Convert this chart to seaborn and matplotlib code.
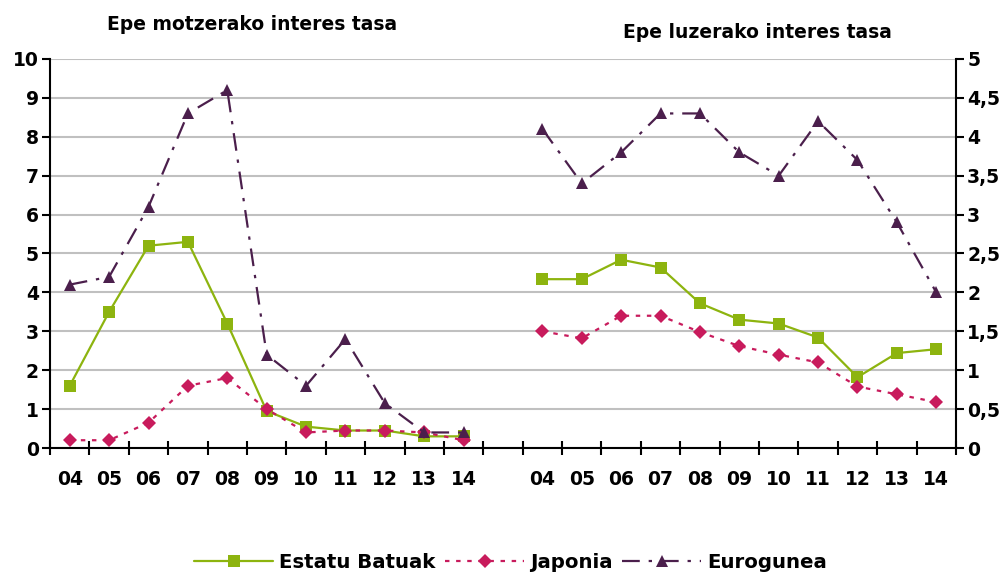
import matplotlib
matplotlib.use("Agg")
import matplotlib.pyplot as plt
import seaborn as sns
from matplotlib.lines import Line2D

# years shown in both panels
years = ["04", "05", "06", "07", "08", "09", "10", "11", "12", "13", "14"]

# short-term interest rate (left axis, 0-10)
short_us = [1.6, 3.5, 5.2, 5.3, 3.2, 0.95, 0.55, 0.45, 0.45, 0.3, 0.3]
short_jp = [0.2, 0.2, 0.65, 1.6, 1.8, 1.0, 0.4, 0.45, 0.45, 0.4, 0.2]
short_eu = [4.2, 4.4, 6.2, 8.6, 9.2, 2.4, 1.6, 2.8, 1.15, 0.4, 0.4]

# long-term interest rate (right axis, 0-5)
long_us = [2.17, 2.17, 2.42, 2.32, 1.86, 1.65, 1.6, 1.42, 0.91, 1.22, 1.27]
long_jp = [1.5, 1.41, 1.7, 1.7, 1.49, 1.31, 1.2, 1.1, 0.79, 0.69, 0.59]
long_eu = [4.1, 3.4, 3.8, 4.3, 4.3, 3.8, 3.5, 4.2, 3.7, 2.9, 2.0]

labels = ["Estatu Batuak", "Japonia", "Eurogunea"]

green = "#8db40f"
pink = "#c81b5c"
purple = "#4b1f4c"

styles = [
    dict(color=green, marker="s", markersize=8, linestyle="-", linewidth=1.6),
    dict(color=pink, marker="D", markersize=7, linestyle=(0, (2, 3)), linewidth=1.6),
    dict(color=purple, marker="^", markersize=9, linestyle=(0, (8, 4, 1.5, 4)), linewidth=1.6),
]

sns.set_style("white")
plt.rcParams["font.family"] = ["DejaVu Sans"]
plt.rcParams["font.weight"] = "bold"
plt.rcParams["text.color"] = "black"
plt.rcParams["xtick.color"] = "black"
plt.rcParams["ytick.color"] = "black"

fig = plt.figure(figsize=(10.05, 5.76), dpi=100)
ax = fig.add_axes([0.0498, 0.2222, 0.9014, 0.6754])
ax2 = ax.twinx()

x_left = list(range(0, 11))
x_right = list(range(12, 23))

for vals, st in zip([short_us, short_jp, short_eu], styles):
    sns.lineplot(x=x_left, y=vals, ax=ax, markeredgewidth=0, **st)
for vals, st in zip([long_us, long_jp, long_eu], styles):
    sns.lineplot(x=x_right, y=vals, ax=ax2, markeredgewidth=0, **st)

ax.set_xlim(-0.5, 22.5)
ax.set_ylim(0, 10)
ax2.set_ylim(0, 5)

ax.set_yticks(range(0, 11))
ax.set_yticklabels([str(i) for i in range(0, 11)], fontsize=13.5, fontweight="bold")
rticks = [i * 0.5 for i in range(11)]
ax2.set_yticks(rticks)
ax2.set_yticklabels([("%g" % t).replace(".", ",") for t in rticks], fontsize=13.5, fontweight="bold")

# category boundaries as ticks, labels at centres
ax.set_xticks([i - 0.5 for i in range(24)])
ax.set_xticklabels([])
ax.set_xticks(x_left + x_right, minor=True)
ax.set_xticklabels(years + years, minor=True, fontsize=13.5, fontweight="bold")
ax.tick_params(axis="x", which="major", bottom=True, direction="inout", length=10, width=1.5)
ax.tick_params(axis="x", which="minor", bottom=True, length=0, pad=16)
ax.tick_params(axis="y", left=True, direction="out", length=6, width=1.5, pad=2)
ax2.tick_params(axis="y", right=True, direction="out", length=6, width=1.5, pad=2)

ax.grid(axis="y", color="#c0c0c0", linewidth=1.5)
ax.grid(axis="x", visible=False)
ax.set_axisbelow(True)

for a in (ax, ax2):
    a.spines["top"].set_visible(False)
    a.set_xlabel("")
    a.set_ylabel("")
ax.spines["right"].set_visible(False)
ax2.spines["left"].set_visible(False)
ax2.spines["bottom"].set_visible(False)
ax.spines["left"].set_color("black")
ax.spines["left"].set_linewidth(1.5)
ax.spines["bottom"].set_color("black")
ax.spines["bottom"].set_linewidth(1.5)
ax2.spines["right"].set_color("black")
ax2.spines["right"].set_linewidth(1.5)

fig.text(0.251, 0.957, "Epe motzerako interes tasa", ha="center", va="center",
         fontsize=13.5, fontweight="bold")
fig.text(0.754, 0.944, "Epe luzerako interes tasa", ha="center", va="center",
         fontsize=13.5, fontweight="bold")

handles = [Line2D([], [], markeredgewidth=0, **st) for st in styles]
fig.legend(handles, labels, loc="center", bbox_to_anchor=(0.508, 0.023), ncol=3,
           frameon=False, handlelength=4.0, columnspacing=0.5, handletextpad=0.3,
           prop={"size": 14.2, "weight": "bold"})

fig.savefig("out.png", dpi=100)
